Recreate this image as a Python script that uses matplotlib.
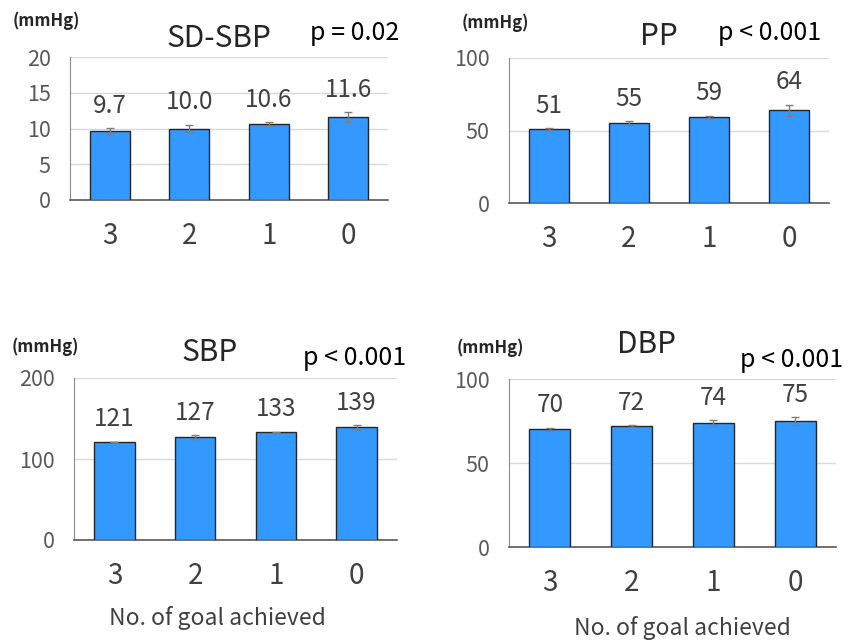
import numpy as np
import matplotlib
matplotlib.use("Agg")
import matplotlib.pyplot as plt

plt.rcParams['font.family'] = ['Noto Sans CJK JP', 'DejaVu Sans']

categories = ['3', '2', '1', '0']

sd_sbp = [9.7, 10.0, 10.6, 11.6]
sd_sbp_err = [0.4, 0.55, 0.3, 0.7]
sd_sbp_labels = ['9.7', '10.0', '10.6', '11.6']

pp = [51, 55, 59, 64]
pp_err = [0.5, 1.3, 1.2, 3.8]

sbp = [121, 127, 133, 139]
sbp_err = [0.6, 2.2, 0.8, 3.2]

dbp = [70, 72, 74, 75]
dbp_err = [1.1, 0.5, 1.3, 2.1]

W, H = 849, 640
fig = plt.figure(figsize=(W / 100, H / 100), dpi=100)
fig.patch.set_facecolor('white')

BAR = '#3399ff'
GRID = '#d9d9d9'


def px_axes(left, top, right, bottom):
    return fig.add_axes([left / W, 1 - bottom / H, (right - left) / W, (bottom - top) / H])


def ftext(x, y, s, **kw):
    fig.text(x / W, 1 - y / H, s, **kw)


def panel(box, vals, errs, labels, ymax, step):
    ax = px_axes(*box)
    x = np.arange(len(categories))
    ax.bar(x, vals, width=0.5, color=BAR, edgecolor='#262626', linewidth=1.0, zorder=3)
    ax.errorbar(x, vals, yerr=errs, fmt='none', ecolor='#7f7f7f', elinewidth=1.0,
                capsize=3, capthick=1.0, zorder=4)
    for xi, v, e, lab in zip(x, vals, errs, labels):
        ax.annotate(lab, (xi, v + e), xytext=(0, 11), textcoords='offset points',
                    ha='center', va='baseline', fontsize=17.5, color='#404040')
    ax.set_xlim(-0.5, len(categories) - 0.5)
    ax.set_ylim(0, ymax)
    ax.set_yticks(np.arange(0, ymax + step / 2, step))
    ax.set_xticks(x)
    ax.set_xticklabels(categories)
    ax.tick_params(axis='y', length=0, pad=14, labelsize=15.5, labelcolor='#595959')
    ax.tick_params(axis='x', length=0, pad=15, labelsize=20, labelcolor='#404040')
    ax.grid(axis='y', color=GRID, linewidth=1.0, zorder=0)
    ax.set_axisbelow(True)
    for s in ['top', 'right']:
        ax.spines[s].set_visible(False)
    ax.spines['left'].set_color('#8c8c8c')
    ax.spines['bottom'].set_color('#595959')
    ax.spines['bottom'].set_linewidth(1.2)
    return ax


panel((70, 57, 388, 200), sd_sbp, sd_sbp_err, sd_sbp_labels, 20, 5)
panel((509, 58, 829, 203), pp, pp_err, [str(v) for v in pp], 100, 50)
panel((74, 378, 397, 540), sbp, sbp_err, [str(v) for v in sbp], 200, 100)
panel((509, 379, 836, 547), dbp, dbp_err, [str(v) for v in dbp], 100, 50)

title_kw = dict(fontsize=21.5, color='#262626', ha='center', va='baseline')
p_kw = dict(fontsize=18, color='black', ha='left', va='baseline')
unit_kw = dict(fontsize=12, color='#262626', ha='left', va='baseline', fontweight='bold')
xlab_kw = dict(fontsize=16.5, color='#404040', ha='center', va='baseline')

ftext(219, 47, 'SD-SBP', **title_kw)
ftext(310, 40, 'p = 0.02', **p_kw)
ftext(13, 26, '(mmHg)', **unit_kw)

ftext(659, 45, 'PP', **title_kw)
ftext(718, 40, 'p < 0.001', **p_kw)
ftext(462, 28, '(mmHg)', **unit_kw)

ftext(210, 361, 'SBP', **title_kw)
ftext(303, 365, 'p < 0.001', **p_kw)
ftext(12, 352, '(mmHg)', **unit_kw)
ftext(217, 625, 'No. of goal achieved', **xlab_kw)

ftext(647, 353, 'DBP', **title_kw)
ftext(740, 367, 'p < 0.001', **p_kw)
ftext(457, 353, '(mmHg)', **unit_kw)
ftext(682, 635, 'No. of goal achieved', **xlab_kw)

fig.savefig('out.png', dpi=100)
